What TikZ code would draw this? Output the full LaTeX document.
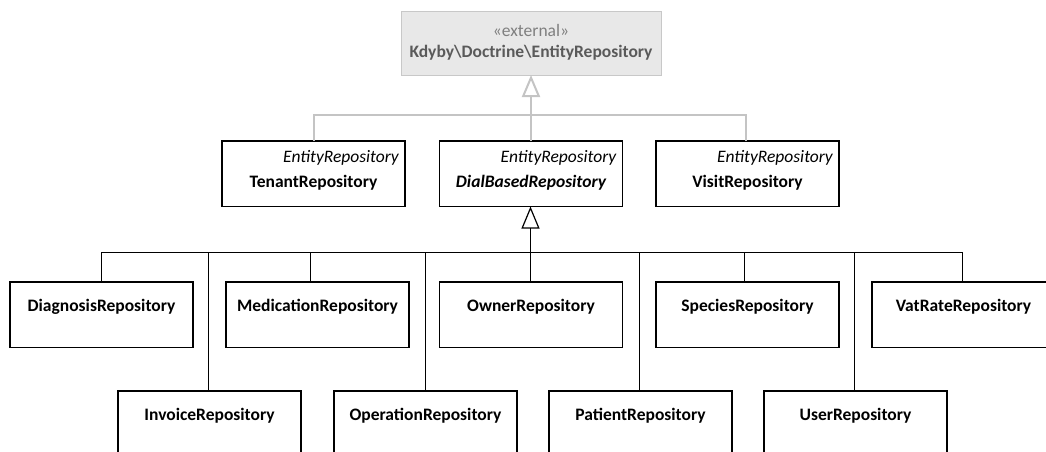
\documentclass[tikz,border=0pt]{standalone}
\usepackage{fontspec}
\setmainfont{Carlito}
\usetikzlibrary{arrows.meta}

\definecolor{extfill}{HTML}{E8E8E8}
\definecolor{extdraw}{HTML}{C8C8C8}
\definecolor{extlink}{HTML}{C4C4C4}
\definecolor{stertext}{HTML}{7F7F7F}
\definecolor{extname}{HTML}{5A5A5A}

\newcommand{\umlsize}{\fontsize{17.5}{20}\selectfont}

\tikzset{
  cls/.style={draw=black, line width=1.2pt, fill=white, anchor=north west,
    minimum width=183pt, minimum height=65.5pt, inner sep=0pt, outer sep=0pt},
  extcls/.style={draw=extdraw, line width=1pt, fill=extfill, anchor=north west,
    minimum width=260pt, minimum height=63pt, inner sep=0pt, outer sep=0pt},
  clsname/.style={font=\umlsize\bfseries, anchor=base, inner sep=0pt},
  stereo/.style={font=\umlsize\itshape, anchor=base east, inner sep=0pt},
  blkline/.style={draw=black, line width=1.2pt},
  grayline/.style={draw=extlink, line width=2pt},
  genarrow/.style={-{Triangle[open, length=22pt, width=18pt, fill=white]}},
}

\begin{document}
\begin{tikzpicture}[x=1pt, y=-1pt]
  \useasboundingbox (0,0) rectangle (1046,452);
  \clip (0,0) rectangle (1046,452);

  % external base class
  \node[extcls] (ext) at (401,12) {};
  \node[font=\umlsize, text=stertext, anchor=base, inner sep=0pt]
    (extster) at (531,37) {«external»};
  \node[font=\umlsize\bfseries, text=extname, anchor=base, inner sep=0pt]
    (extnm) at (531,58) {Kdyby\textbackslash Doctrine\textbackslash EntityRepository};

  % middle row
  \node[cls] (tenant) at (222,141) {};
  \node[cls] (dial) at (439.5,141) {};
  \node[cls] (visit) at (656,141) {};
  \foreach \b in {tenant,dial,visit}{
    \node[stereo] (\b-st) at ([xshift=-6pt, yshift=-21pt]\b.north east) {EntityRepository};
  }
  \node[clsname] (tenant-nm) at ([yshift=-46pt]tenant.north) {TenantRepository};
  \node[clsname, font=\umlsize\bfseries\itshape] (dial-nm) at ([yshift=-46pt]dial.north) {DialBasedRepository};
  \node[clsname] (visit-nm) at ([yshift=-46pt]visit.north) {VisitRepository};

  % first row of subclasses
  \node[cls] (diag) at (10,282) {};
  \node[cls] (med) at (226,282) {};
  \node[cls] (own) at (439.5,282) {};
  \node[cls] (spec) at (656,282) {};
  \node[cls] (vat) at (872,282) {};

  % second row of subclasses
  \node[cls] (inv) at (118,391) {};
  \node[cls] (oper) at (334,391) {};
  \node[cls] (pat) at (549,391) {};
  \node[cls] (usr) at (764,391) {};

  \foreach \b/\t in {diag/DiagnosisRepository, med/MedicationRepository,
      own/OwnerRepository, spec/SpeciesRepository, vat/VatRateRepository,
      inv/InvoiceRepository, oper/OperationRepository, pat/PatientRepository,
      usr/UserRepository}{
    \node[clsname] (\b-nm) at ([yshift=-29pt]\b.north) {\t};
  }

  % generalisation towards the external repository
  \coordinate (gj) at (531,115);
  \draw[grayline] (tenant.north) |- (gj) -| ([xshift=-2pt]visit.north);
  \draw[grayline, genarrow] (dial.north) -- (ext.south);

  % generalisation towards DialBasedRepository
  \coordinate (bj) at (530.5,252.5);
  \draw[blkline] (diag.north) |- (bj) -| ([xshift=-1pt]vat.north);
  \draw[blkline, genarrow] ([xshift=-0.5pt]own.north) -- ([xshift=-0.5pt]dial.south);
  \foreach \b/\dx in {inv/-1, med/-7, oper/0, pat/-1, spec/-3, usr/-1}{
    \draw[blkline] ([xshift=\dx pt]\b.north) -- ([xshift=\dx pt]\b.north |- bj);
  }
\end{tikzpicture}
\end{document}
